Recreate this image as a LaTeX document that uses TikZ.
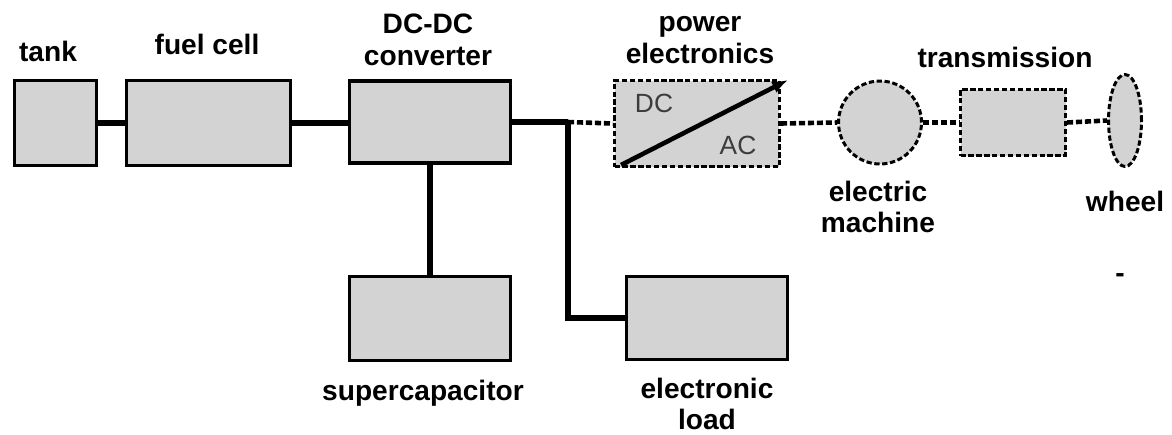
\documentclass[tikz,border=0pt]{standalone}
\usepackage{fontspec}
\setmainfont{Liberation Sans}
\usepackage{xcolor}
\usetikzlibrary{shapes.geometric,arrows.meta}
\definecolor{blockgray}{HTML}{D3D3D3}
\definecolor{convgray}{HTML}{3C3C3C}

\begin{document}
\begin{tikzpicture}[
    x=0.02cm, y=-0.02cm,
    block/.style={rectangle, draw, line width=2.2pt,
                  fill=blockgray, inner sep=0pt},
    mechblock/.style={block, line width=1.7pt,
                      dash pattern=on 3pt off 1.5pt},
    caption/.style={font=\fontsize{16}{18}\selectfont\bfseries,
                    align=center, inner sep=0pt},
    elec/.style={line width=3.3pt},
    mech/.style={line width=2.6pt, dash pattern=on 3.5pt off 1.6pt}
]
\useasboundingbox (0,0) rectangle (1172,434);

% electric side
\node[block, minimum width=1.64cm, minimum height=1.70cm] (tank) at (55.5,123) {};
\node[block, minimum width=3.28cm, minimum height=1.70cm] (fc) at (208.5,123) {};
\node[block, minimum width=3.22cm, minimum height=1.64cm] (dcdc) at (430,122) {};
\node[block, minimum width=3.22cm, minimum height=1.68cm] (scap) at (430,318.5) {};
\node[block, minimum width=3.22cm, minimum height=1.66cm] (load) at (707,318) {};
\coordinate (bus) at (568,122);

% mechanical side
\node[mechblock, minimum width=3.30cm, minimum height=1.72cm] (pe) at (697,123.5) {};
\node[mechblock, circle, minimum size=1.66cm] (em) at (880,122.5) {};
\node[mechblock, minimum width=2.10cm, minimum height=1.32cm] (trans) at (1013,122.5) {};
\node[mechblock, ellipse, minimum width=0.66cm, minimum height=1.84cm] (wheel) at (1125,120.5) {};

% labels
\node[caption] (tanklbl) at (48,51) {tank};
\node[caption] (fclbl) at (207,44) {fuel cell};
\node[caption] (dcdclbl) at (428,40) {DC-DC\\converter};
\node[caption] (pelbl) at (700,40) {power\\electronics};
\node[caption] (translbl) at (1005,57) {transmission};
\node[caption] (emlbl) at (878,207) {electric\\machine};
\node[caption] (wheellbl) at (1125,201) {wheel};
\node[caption] (dashlbl) at (1120,278) {-};
\node[caption] (scaplbl) at (423,393) {supercapacitor};
\node[caption] (loadlbl) at (707,404) {electronic\\load};
\node[font=\fontsize{15}{18}\selectfont, text=convgray] (dclbl) at (654,103) {DC};
\node[font=\fontsize{15}{18}\selectfont, text=convgray] (aclbl) at (738,145) {AC};

% connections
\draw[elec] (tank.east) -- (fc.west);
\draw[elec] (fc.east) -- (fc.east -| dcdc.west);
\draw[elec] (dcdc.south) -- (scap.north);
\draw[elec] (dcdc.east) -- (bus);
\draw[elec] (bus) |- (load.west);
\draw[mech] (bus) -- (pe.west);
\draw[mech] (pe.east) -- (em.west);
\draw[mech] (em.east) -- (trans.west);
\draw[mech] (trans.east) -- (wheel.west);
\draw[line width=2.6pt, -{Latex[length=9pt,width=7pt]}]
    ([shift={(8,-3)}]pe.south west) -- ([shift={(7,1)}]pe.north east);
\end{tikzpicture}
\end{document}
